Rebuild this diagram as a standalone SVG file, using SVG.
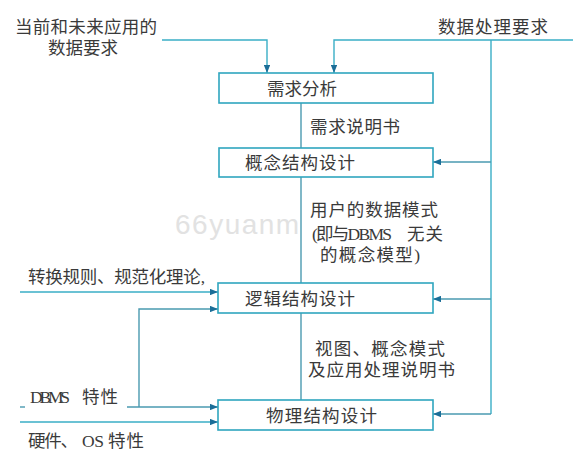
<svg xmlns="http://www.w3.org/2000/svg" width="573" height="467" viewBox="0 0 573 467">
<defs>
<marker id="arr" viewBox="0 0 10 8" refX="10" refY="4" markerWidth="8" markerHeight="6.4" markerUnits="userSpaceOnUse" orient="auto">
<path d="M0,0 L10,4 L0,8 Z" fill="#1b6e98"/>
</marker>
<style>
.box{fill:#fff;stroke:#2fa6bf;stroke-width:1.6}
.ln{fill:none;stroke:#3aaec6;stroke-width:1.4}
.ln2{fill:none;stroke:#4a9ab0;stroke-width:1.4}
.t{font-family:"Liberation Serif","Noto Sans CJK SC",serif;font-size:17.5px;fill:#3a3a3a}
.wm{font-family:"Liberation Sans",Arial,sans-serif;font-size:28px;fill:#e2e2e2}
</style>
</defs>
<rect width="573" height="467" fill="#fff"/>
<text class="wm" x="175" y="234" letter-spacing="1.5">66yuanm</text>
<g id="connectors">
<path class="ln" d="M162,40 H267 V73" marker-end="url(#arr)"/>
<path class="ln" d="M573,40 H334 V73" marker-end="url(#arr)"/>
<path class="ln" d="M491,40 V414"/>
<path class="ln2" d="M491,162 H433" marker-end="url(#arr)"/>
<path class="ln2" d="M491,299 H433" marker-end="url(#arr)"/>
<path class="ln2" d="M491,414 H433" marker-end="url(#arr)"/>
<path class="ln2" d="M301,103 V148"/>
<path class="ln2" d="M301,177 V283"/>
<path class="ln2" d="M301,313 V400"/>
<path class="ln" d="M20,292 H218" marker-end="url(#arr)"/>
<path class="ln2" d="M139,407 V309 H218" marker-end="url(#arr)"/>
<path class="ln2" d="M127,407 H218" marker-end="url(#arr)"/>
<path class="ln2" d="M20,407 H25"/>
<path class="ln" d="M20,422 H218" marker-end="url(#arr)"/>
</g>
<g id="n1">
<rect class="box" x="219" y="73" width="214" height="30"/>
<text class="t" x="267" y="95" textLength="70">需求分析</text>
</g>
<g id="n2">
<rect class="box" x="219" y="148" width="214" height="29"/>
<text class="t" x="245" y="169" textLength="110">概念结构设计</text>
</g>
<g id="n3">
<rect class="box" x="218" y="283" width="215" height="30"/>
<text class="t" x="245" y="305" textLength="110">逻辑结构设计</text>
</g>
<g id="n4">
<rect class="box" x="218" y="400" width="215" height="30"/>
<text class="t" x="266" y="422" textLength="111">物理结构设计</text>
</g>
<g id="labels">
<text class="t" x="15" y="33" textLength="142">当前和未来应用的</text>
<text class="t" x="48" y="54" textLength="70">数据要求</text>
<text class="t" x="438" y="33" textLength="110">数据处理要求</text>
<text class="t" x="310" y="133" textLength="90">需求说明书</text>
<text class="t" x="310" y="216" textLength="128">用户的数据模式</text>
<text class="t" x="312" y="240"><tspan textLength="80">(即与DBMS</tspan><tspan x="407" textLength="36">无关</tspan></text>
<text class="t" x="320" y="261" textLength="100">的概念模型)</text>
<text class="t" x="28" y="283" textLength="177">转换规则、规范化理论,</text>
<text class="t" x="315" y="355" textLength="130">视图、概念模式</text>
<text class="t" x="308" y="376" textLength="147">及应用处理说明书</text>
<text class="t" x="30" y="403"><tspan textLength="40">DBMS</tspan><tspan x="82" textLength="36">特性</tspan></text>
<text class="t" x="28" y="447"><tspan textLength="50">硬件、</tspan><tspan x="82" textLength="22">OS</tspan><tspan x="108" textLength="36">特性</tspan></text>
</g>
</svg>
